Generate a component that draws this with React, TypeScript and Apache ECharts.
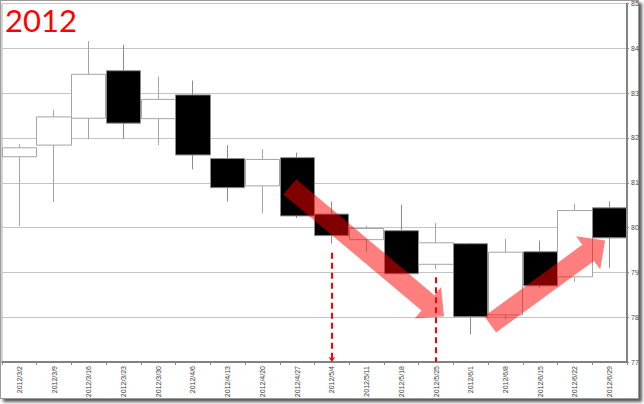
import React, { useEffect, useRef } from "react";
import * as echarts from "echarts";

// Weekly candles (open, close, low, high)
const categories = [
  "2012/3/2", "2012/3/9", "2012/3/16", "2012/3/23", "2012/3/30", "2012/4/6",
  "2012/4/13", "2012/4/20", "2012/4/27", "2012/5/4", "2012/5/11", "2012/5/18",
  "2012/5/25", "2012/6/1", "2012/6/8", "2012/6/15", "2012/6/22", "2012/6/29",
];
const opens = [81.58, 81.84, 82.44, 83.5, 82.43, 82.96, 81.54, 80.93, 81.56, 80.3, 79.73, 79.93, 79.18, 79.64, 78.05, 79.46, 78.9, 80.44];
const closes = [81.78, 82.47, 83.42, 82.33, 82.86, 81.62, 80.89, 81.52, 80.26, 79.82, 79.98, 78.97, 79.66, 78.01, 79.45, 78.7, 80.38, 79.77];
const lows = [80.03, 80.57, 81.97, 81.98, 81.84, 81.3, 80.58, 80.32, 80.21, 79.64, 79.46, 78.95, 79.07, 77.62, 77.95, 78.65, 78.79, 79.1];
const highs = [81.86, 82.63, 84.16, 84.08, 83.37, 83.28, 81.84, 81.75, 81.67, 80.58, 80.04, 80.51, 80.1, 79.66, 79.75, 79.71, 80.53, 80.58];

// y axis ticks
const yMin = 77;
const yMax = 85;
const yStep = 1;

// Annotation arrows: [fromIndex, fromValue, toIndex, toValue]
const arrows = [
  [7.79, 80.91, 12.23, 78.02],
  [13.56, 77.84, 16.87, 79.71],
];
// Dashed marker lines: date and starting value (down to axis)
const markerDates = ["2012/5/4", "2012/5/25"];
const markerTops = [79.44, 78.89];

const title = "2012";

export default function App() {
  const ref = useRef<HTMLDivElement>(null);

  useEffect(() => {
    const chart = echarts.init(ref.current as HTMLDivElement, null, { renderer: "svg" });
    const candleData = categories.map((_, i) => [opens[i], closes[i], lows[i], highs[i]]);

    chart.setOption({
      animation: false,
      title: {
        text: title,
        left: 5,
        top: 4,
        padding: 0,
        textStyle: { color: "#ff0000", fontSize: 31, fontWeight: "normal", fontFamily: "Lato" },
      },
      grid: {
        left: 2,
        top: 2,
        right: 17,
        bottom: 42,
        show: true,
        borderColor: "#a8a8a8",
        borderWidth: 1,
        backgroundColor: "transparent",
      },
      xAxis: [
        {
          type: "category",
          data: categories,
          position: "bottom",
          axisLine: { onZero: false, lineStyle: { color: "#6a6a6a", width: 1.5 } },
          axisTick: { show: true, length: 3, lineStyle: { color: "#8a8a8a" } },
          axisLabel: {
            rotate: 90,
            fontSize: 7,
            margin: 4,
            color: "#3a3a3a",
            fontFamily: "Liberation Sans",
          },
          splitLine: { show: false },
        },
        {
          type: "value",
          min: -0.5,
          max: 17.5,
          show: false,
        },
      ],
      yAxis: {
        type: "value",
        position: "right",
        min: yMin,
        max: yMax,
        interval: yStep,
        axisLine: { show: true, onZero: false, lineStyle: { color: "#6a6a6a", width: 1.5 } },
        axisTick: { show: true, length: 2, lineStyle: { color: "#8a8a8a" } },
        axisLabel: { fontSize: 7, margin: 4, color: "#4a4a4a", fontFamily: "Liberation Sans" },
        splitLine: { show: true, lineStyle: { color: "#c4c4c4", width: 1 } },
      },
      series: [
        {
          type: "candlestick",
          data: candleData,
          barWidth: "100%",
          itemStyle: {
            color: "#ffffff",
            color0: "#000000",
            borderColor: "#a4a4a4",
            borderColor0: "#8c8c8c",
            borderWidth: 1,
          },
          markLine: {
            silent: true,
            symbol: "none",
            label: { show: false },
            lineStyle: { color: "#ff0000", type: [6, 4], width: 2 },
            data: markerDates.map((d, i) => [
              { coord: [d, markerTops[i]], symbol: "none" },
              { coord: [d, yMin], symbol: i === 0 ? "arrow" : "none", symbolSize: 5 },
            ]),
          },
          z: 2,
        },
        {
          type: "custom",
          xAxisIndex: 1,
          yAxisIndex: 0,
          data: arrows,
          encode: { x: [0, 2], y: [1, 3] },
          clip: false,
          z: 5,
          renderItem: (params: any, api: any) => {
            const p0 = api.coord([api.value(0), api.value(1)]);
            const p1 = api.coord([api.value(2), api.value(3)]);
            const dx = p1[0] - p0[0];
            const dy = p1[1] - p0[1];
            const len = Math.sqrt(dx * dx + dy * dy);
            const ux = dx / len;
            const uy = dy / len;
            const nx = -uy;
            const ny = ux;
            const H = 21;
            const sw = 10;
            const hw = 20.5;
            const bx = p1[0] - ux * H;
            const by = p1[1] - uy * H;
            const points = [
              [p0[0] + nx * sw, p0[1] + ny * sw],
              [bx + nx * sw, by + ny * sw],
              [bx + nx * hw, by + ny * hw],
              [p1[0], p1[1]],
              [bx - nx * hw, by - ny * hw],
              [bx - nx * sw, by - ny * sw],
              [p0[0] - nx * sw, p0[1] - ny * sw],
            ];
            return {
              type: "polygon",
              shape: { points },
              style: { fill: "rgba(255,0,0,0.5)", stroke: "none" },
            };
          },
        },
      ],
    });
    return () => chart.dispose();
  }, []);

  return (
    <div style={{ position: "absolute", left: 0, top: 0, width: 644, height: 404, background: "#ffffff", overflow: "hidden" }}>
      <div
        style={{
          position: "absolute",
          left: 0,
          top: 0,
          width: 639,
          height: 399,
          boxSizing: "border-box",
          border: "1px solid #9a9a9a",
          boxShadow: "3px 3px 3px #5a5a5a",
          background: "#ffffff",
        }}
      />
      <div ref={ref} style={{ position: "absolute", left: 0, top: 0, width: 644, height: 404 }} />
    </div>
  );
}
